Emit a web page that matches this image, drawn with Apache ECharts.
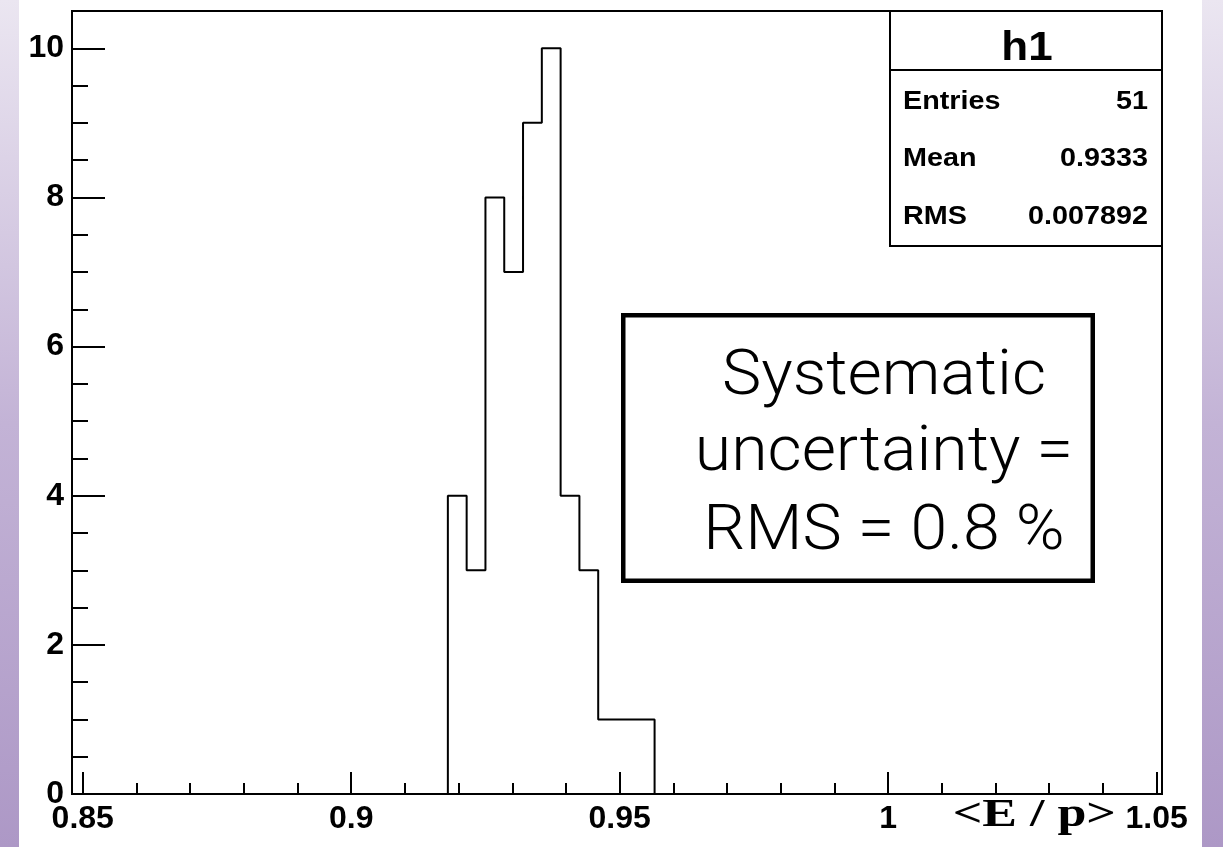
<!DOCTYPE html>
<html>
<head>
<meta charset="utf-8">
<script src="https://cdn.jsdelivr.net/npm/echarts@6/dist/echarts.min.js"></script>
<style>
  html, body { margin: 0; padding: 0; background: #ffffff; }
  #chart { width: 1223px; height: 847px; }
</style>
</head>
<body>
<div id="chart"></div>
<script>
// Histogram h1 of <E/p>: bin edges and contents
const binEdges = [0.918, 0.9215, 0.925, 0.9285, 0.932, 0.9355, 0.939, 0.9425, 0.946, 0.9495, 0.953, 0.9565];
const binCounts = [4, 3, 8, 7, 9, 10, 4, 3, 1, 1, 1];

// Axis ticks
const xMajorTicks = [0.85, 0.9, 0.95, 1, 1.05];
const xMinorTicks = [0.86, 0.87, 0.88, 0.89, 0.91, 0.92, 0.93, 0.94, 0.96, 0.97, 0.98, 0.99, 1.01, 1.02, 1.03, 1.04];
const yMajorTicks = [0, 2, 4, 6, 8, 10];
const yMinorTicks = [0.5, 1, 1.5, 2.5, 3, 3.5, 4.5, 5, 5.5, 6.5, 7, 7.5, 8.5, 9, 9.5];

// Statistics box
const statTitle = 'h1';
const statNames = ['Entries', 'Mean', 'RMS'];
const statValues = ['51', '0.9333', '0.007892'];

// Annotation
const noteLines = ['Systematic', 'uncertainty =', 'RMS = 0.8 %'];
const xTitle = '<E / p>';

// Outline of the histogram as a stepped polyline
const outline = [[binEdges[0], 0]];
binCounts.forEach(function (c, i) {
  outline.push([binEdges[i], c]);
  outline.push([binEdges[i + 1], c]);
});
outline.push([binEdges[binEdges.length - 1], 0]);

const SANS = '"Liberation Sans", Arial, Helvetica, sans-serif';
const SERIF = '"Liberation Serif", "Times New Roman", serif';
const LIGHT = 'Roboto, "Open Sans", Lato, sans-serif';
const black = '#000000';

const chart = echarts.init(document.getElementById('chart'), null, { renderer: 'canvas' });

const stripFill = {
  type: 'linear', x: 0, y: 0, x2: 0, y2: 1,
  colorStops: [
    { offset: 0, color: '#ebe6f1' },
    { offset: 0.5, color: '#c3b3d6' },
    { offset: 1, color: '#ad98c6' }
  ]
};

const statRowsY = [102, 159.5, 217.5];
const statGraphics = [];
statNames.forEach(function (name, i) {
  statGraphics.push({
    type: 'text', x: 903, y: statRowsY[i], scaleX: 1.15, z: 20,
    style: { text: name, font: 'bold 25px ' + SANS, fill: black, align: 'left', verticalAlign: 'middle' }
  });
  statGraphics.push({
    type: 'text', x: 1148, y: statRowsY[i], scaleX: 1.15, z: 20,
    style: { text: statValues[i], font: 'bold 25px ' + SANS, fill: black, align: 'right', verticalAlign: 'middle' }
  });
});

const noteY = [378, 454, 533];
const noteGraphics = noteLines.map(function (line, i) {
  return {
    type: 'text', x: 884, y: noteY[i], scaleX: 1.05, z: 20,
    style: { text: line, font: '300 63px ' + LIGHT, fill: black, align: 'center', verticalAlign: 'middle' }
  };
});

const option = {
  animation: false,
  backgroundColor: '#ffffff',
  grid: {
    left: 72, right: 61, top: 11, bottom: 53,
    show: true, borderColor: black, borderWidth: 2, backgroundColor: '#ffffff'
  },
  xAxis: [
    {
      type: 'value', min: 0.848, max: 1.051, position: 'bottom',
      axisLine: { show: true, lineStyle: { color: black, width: 2 } },
      axisTick: { show: true, inside: true, length: 22, customValues: xMajorTicks, lineStyle: { color: black, width: 2 } },
      axisLabel: {
        customValues: xMajorTicks, margin: 9, color: black,
        fontSize: 32, fontWeight: 'bold', fontFamily: SANS,
        formatter: function (v) { return String(v); }
      },
      splitLine: { show: false }
    },
    {
      type: 'value', min: 0.848, max: 1.051, position: 'bottom',
      axisLine: { show: false },
      axisTick: { show: true, inside: true, length: 11, customValues: xMinorTicks, lineStyle: { color: black, width: 2 } },
      axisLabel: { show: false },
      splitLine: { show: false }
    }
  ],
  yAxis: [
    {
      type: 'value', min: 0, max: 10.5, position: 'left',
      axisLine: { show: true, lineStyle: { color: black, width: 2 } },
      axisTick: { show: true, inside: true, length: 33, customValues: yMajorTicks, lineStyle: { color: black, width: 2 } },
      axisLabel: {
        customValues: yMajorTicks, margin: 8, color: black,
        fontSize: 32, fontWeight: 'bold', fontFamily: SANS
      },
      splitLine: { show: false }
    },
    {
      type: 'value', min: 0, max: 10.5, position: 'left',
      axisLine: { show: false },
      axisTick: { show: true, inside: true, length: 16, customValues: yMinorTicks, lineStyle: { color: black, width: 2 } },
      axisLabel: { show: false },
      splitLine: { show: false }
    }
  ],
  series: [
    {
      type: 'line', xAxisIndex: 0, yAxisIndex: 0,
      data: outline, symbol: 'none', z: 5,
      lineStyle: { color: black, width: 2 }
    }
  ],
  graphic: [
    // side strips
    { type: 'rect', left: 0, top: 0, shape: { width: 19, height: 847 }, style: { fill: stripFill }, z: 1 },
    { type: 'rect', left: 1202, top: 0, shape: { width: 21, height: 847 }, style: { fill: stripFill }, z: 1 },
    // statistics box
    { type: 'rect', shape: { x: 890, y: 11, width: 272, height: 235 }, style: { fill: '#ffffff', stroke: black, lineWidth: 2 }, z: 15 },
    { type: 'line', shape: { x1: 890, y1: 70, x2: 1162, y2: 70 }, style: { stroke: black, lineWidth: 2 }, z: 16 },
    {
      type: 'text', x: 1027, y: 49, scaleX: 1.1, z: 20,
      style: { text: statTitle, font: 'bold 40px ' + SANS, fill: black, align: 'center', verticalAlign: 'middle' }
    }
  ].concat(statGraphics).concat([
    // annotation box
    { type: 'rect', shape: { x: 623.25, y: 315.25, width: 469.5, height: 265.5 }, style: { fill: '#ffffff', stroke: black, lineWidth: 4.5 }, z: 15 }
  ]).concat(noteGraphics).concat([
    {
      type: 'text', x: 1116, y: 816, scaleX: 1.3, z: 20,
      style: { text: xTitle, font: 'bold 40px ' + SERIF, fill: black, align: 'right', verticalAlign: 'middle' }
    }
  ])
};

chart.setOption(option);
</script>
</body>
</html>
